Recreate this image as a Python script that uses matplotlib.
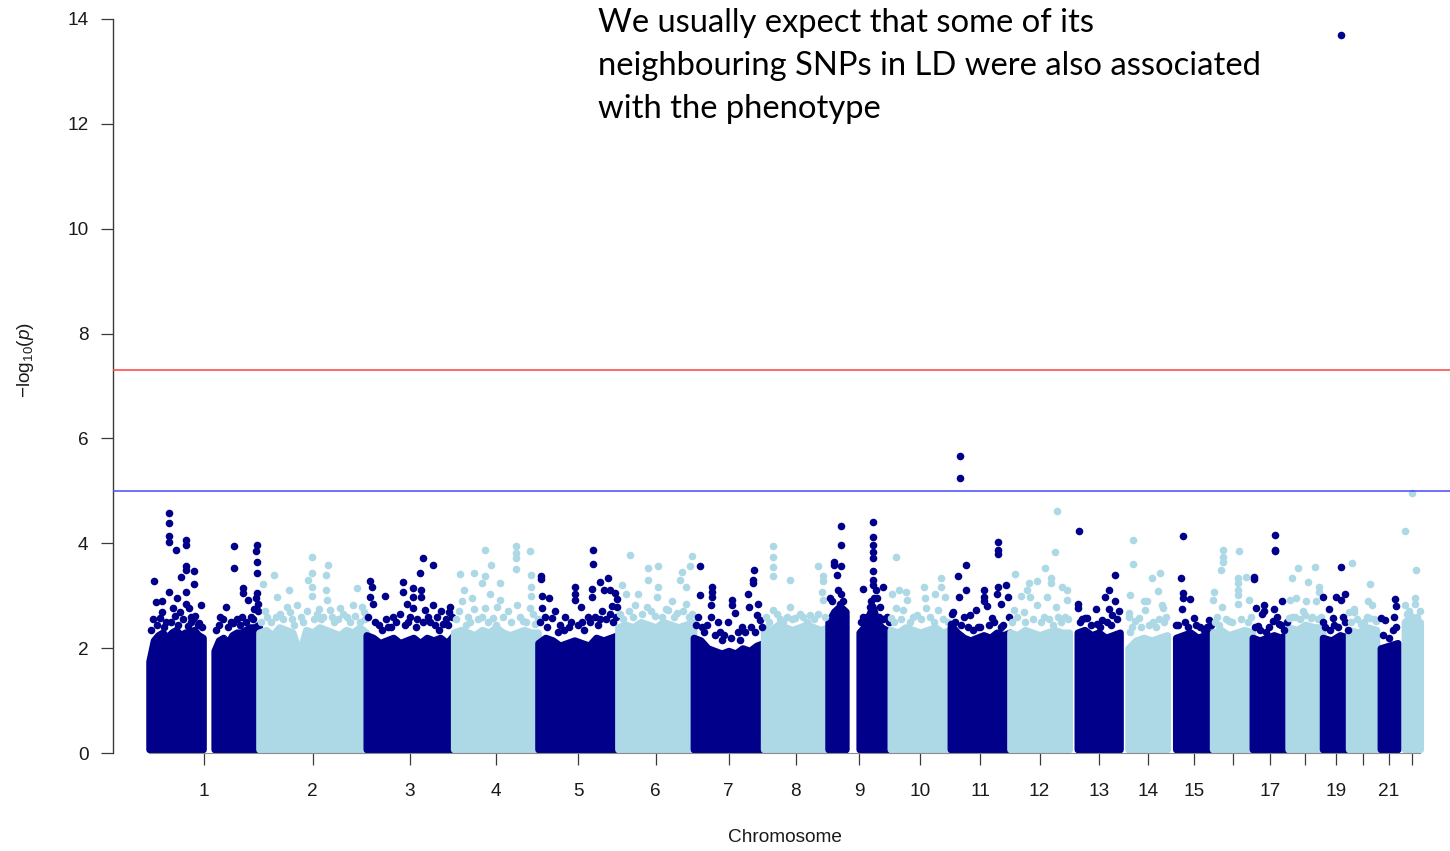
import numpy as np
import matplotlib
matplotlib.use("Agg")
import matplotlib.pyplot as plt

plt.rcParams['font.family'] = 'Liberation Sans'
plt.rcParams['mathtext.fontset'] = 'custom'
plt.rcParams['mathtext.rm'] = 'Liberation Sans'
plt.rcParams['mathtext.it'] = 'Liberation Sans:italic'

# chromosome lengths in Mb (hg19), autosomes 1-22
chrom_len = [249, 243, 198, 191, 181, 171, 159, 146, 141, 136, 135, 134,
             115, 107, 103, 90, 81, 78, 59, 63, 48, 51]
chrom_labels = ['1', '2', '3', '4', '5', '6', '7', '8', '9', '10', '11', '12',
                '13', '14', '15', '', '17', '', '19', '', '21', '']

# dense body of the SNP cloud: (from Mb, to Mb, upper edge of the cloud)
band_1 = [(0.5, 122, [1.75, 2.15, 2.25, 2.3, 2.2, 2.3, 2.35, 2.25, 2.3, 2.3, 2.35, 2.25, 2.2]),
          (148, 249, [1.95, 2.15, 2.2, 2.1, 2.25, 2.3, 2.3, 2.35, 2.4, 2.4, 2.45])]
band_2 = [(0.5, 243, [2.3, 2.35, 2.25, 2.4, 2.35, 2.3, 1.9, 2.35, 2.3, 2.4, 2.35, 2.3, 2.25,
                      2.35, 2.3, 2.4, 2.3])]
band_3 = [(0.5, 198, [2.25, 2.2, 2.1, 2.15, 2.2, 2.1, 2.15, 2.2, 2.1, 2.2, 2.15, 2.2, 2.1, 2.25])]
band_4 = [(0.5, 191, [2.3, 2.35, 2.3, 2.25, 2.35, 2.3, 2.4, 2.3, 2.25, 2.3, 2.35, 2.3, 2.3])]
band_5 = [(0.5, 181, [2.1, 2.2, 2.15, 2.05, 2.1, 2.15, 2.1, 2.05, 2.2, 2.15, 2.2, 2.25])]
band_6 = [(0.5, 171, [2.4, 2.45, 2.4, 2.5, 2.45, 2.4, 2.5, 2.45, 2.4, 2.45, 2.5])]
band_7 = [(0.5, 159, [2.2, 2.15, 2.0, 1.95, 1.9, 1.95, 1.9, 2.0, 1.95, 2.05, 2.1])]
band_8 = [(0.5, 146, [2.4, 2.35, 2.45, 2.4, 2.35, 2.4, 2.45, 2.4, 2.35, 2.4])]
band_9 = [(0.5, 40, [2.5, 2.7, 2.8, 2.7]),
          (71, 141, [2.3, 2.4, 2.6, 2.8, 2.5, 2.4, 2.35, 2.3])]
band_10 = [(0.5, 135.5, [2.35, 2.3, 2.4, 2.35, 2.3, 2.35, 2.4, 2.3, 2.35])]
band_11 = [(0.5, 135, [2.45, 2.3, 2.2, 2.15, 2.2, 2.25, 2.2, 2.3, 2.25, 2.3])]
band_12 = [(0.5, 134, [2.3, 2.25, 2.35, 2.3, 2.25, 2.3, 2.35, 2.3, 2.3])]
band_13 = [(19, 115, [2.3, 2.35, 2.25, 2.3, 2.2, 2.25, 2.3])]
band_14 = [(19, 107, [2.0, 2.15, 2.2, 2.15, 2.2, 2.25])]
band_15 = [(20, 102, [2.2, 2.25, 2.3, 2.2, 2.25, 2.3])]
band_16 = [(0.5, 90, [2.3, 2.35, 2.25, 2.3, 2.35, 2.3])]
band_17 = [(0.5, 81, [2.2, 2.15, 2.2, 2.25, 2.2, 2.3])]
band_18 = [(0.5, 78, [2.4, 2.35, 2.45, 2.4, 2.4])]
band_19 = [(0.5, 59, [2.2, 2.15, 2.25, 2.2])]
band_20 = [(0.5, 63, [2.35, 2.3, 2.4, 2.35])]
band_21 = [(9.5, 48, [2.0, 2.05, 2.1])]
band_22 = [(16, 51, [2.5, 2.55, 2.5])]

# SNPs standing out above the cloud: (position Mb, -log10 p)
hits_1 = [(45, 4.58), (45, 4.38), (45, 4.13), (45, 4.02), (61, 3.87), (83, 4.06), (83, 3.97),
          (83, 3.57), (83, 3.50), (102, 3.48), (72, 3.36), (102, 3.22), (12, 3.29), (45, 3.07),
          (83, 3.07), (15, 2.88), (29, 2.90), (63, 2.96), (29, 2.69), (117, 2.83), (83, 2.85),
          (91, 2.76), (55, 2.76), (70, 2.69), (95, 2.60), (8, 2.55), (38, 2.50), (100, 2.55),
          (110, 2.45), (5, 2.35), (18, 2.45), (24, 2.58), (33, 2.40), (50, 2.50), (58, 2.62),
          (66, 2.45), (77, 2.55), (88, 2.42), (96, 2.50), (105, 2.62), (114, 2.48), (120, 2.40),
          (193, 3.94), (193, 3.52), (245, 3.97), (242, 3.86), (245, 3.65),
          (245, 3.44), (214, 3.05), (214, 3.14), (174, 2.79), (225, 2.92), (245, 3.06),
          (242, 2.95), (160, 2.60), (185, 2.50), (200, 2.55), (230, 2.60), (238, 2.75),
          (152, 2.35), (158, 2.45), (168, 2.55), (180, 2.40), (190, 2.48), (205, 2.45),
          (210, 2.60), (220, 2.50), (235, 2.55), (248, 2.70), (248, 2.85)]
hits_2 = [(120, 3.74), (157, 3.58), (152, 3.40), (120, 3.44), (112, 3.30), (120, 3.17),
          (33, 3.40), (10, 3.22), (152, 3.11), (222, 3.14), (67, 3.11), (42, 2.98), (120, 3.00),
          (154, 2.92), (214, 2.82), (184, 2.76), (86, 2.82), (63, 2.79), (48, 2.66), (18, 2.60),
          (131, 2.66), (161, 2.73), (233, 2.79), (28, 2.50), (75, 2.55), (100, 2.50),
          (140, 2.55), (170, 2.50), (200, 2.60), (240, 2.55), (5, 2.50), (14, 2.70),
          (38, 2.60), (55, 2.55), (70, 2.68), (80, 2.45), (95, 2.60), (108, 2.70), (125, 2.55),
          (135, 2.75), (145, 2.60), (165, 2.60), (178, 2.55), (190, 2.65), (207, 2.50),
          (218, 2.62), (228, 2.50), (238, 2.68)]
hits_3 = [(9, 3.29), (14, 3.17), (43, 3.00), (84, 3.27), (84, 3.08), (129, 3.71), (152, 3.59),
          (122, 3.43), (107, 3.14), (124, 3.11), (124, 2.98), (107, 2.98), (92, 2.85),
          (152, 2.82), (107, 2.76), (190, 2.79), (188, 2.69), (61, 2.60), (77, 2.66),
          (133, 2.73), (175, 2.47), (9, 2.98), (16, 2.85), (30, 2.45), (50, 2.40), (95, 2.50),
          (115, 2.55), (145, 2.50), (160, 2.60), (170, 2.70), (180, 2.55), (4, 2.60),
          (20, 2.50), (35, 2.35), (45, 2.55), (57, 2.40), (68, 2.50), (88, 2.45), (100, 2.60),
          (112, 2.40), (128, 2.50), (140, 2.60), (155, 2.45), (165, 2.35), (185, 2.45),
          (195, 2.60)]
hits_4 = [(71, 3.88), (141, 3.94), (141, 3.81), (141, 3.71), (173, 3.85), (141, 3.51),
          (84, 3.59), (15, 3.41), (46, 3.44), (71, 3.38), (64, 3.24), (105, 3.25), (175, 3.39),
          (175, 3.17), (175, 3.00), (24, 3.11), (41, 2.95), (82, 3.03), (105, 2.92),
          (143, 2.82), (20, 2.89), (45, 2.74), (71, 2.76), (98, 2.79), (124, 2.70), (173, 2.76),
          (33, 2.60), (64, 2.60), (90, 2.57), (158, 2.51), (184, 2.47), (5, 2.55), (12, 2.70),
          (28, 2.45), (38, 2.50), (55, 2.55), (78, 2.50), (95, 2.45), (112, 2.60), (130, 2.50),
          (150, 2.60), (165, 2.50), (180, 2.65), (190, 2.55)]
hits_5 = [(125, 3.88), (125, 3.60), (8, 3.37), (8, 3.32), (25, 2.95), (10, 2.99), (10, 2.76),
          (39, 2.71), (84, 3.17), (85, 3.04), (85, 2.92), (122, 3.13), (122, 2.98), (140, 3.27),
          (158, 3.33), (150, 3.11), (163, 3.11), (180, 2.93), (180, 2.79), (97, 2.79),
          (61, 2.60), (31, 2.57), (129, 2.60), (163, 2.66), (113, 2.60), (50, 2.45), (70, 2.40),
          (100, 2.50), (140, 2.55), (170, 2.50), (175, 3.05), (5, 2.50), (15, 2.60), (20, 2.40),
          (45, 2.30), (58, 2.35), (75, 2.50), (90, 2.45), (105, 2.35), (118, 2.50), (135, 2.45),
          (145, 2.70), (155, 2.55), (168, 2.80), (176, 2.60)]
hits_6 = [(27, 3.77), (68, 3.52), (92, 3.57), (145, 3.46), (169, 3.76), (163, 3.57),
          (141, 3.30), (68, 3.30), (90, 3.17), (45, 3.04), (88, 2.98), (122, 2.89), (154, 3.17),
          (154, 2.85), (9, 3.20), (18, 3.04), (39, 2.82), (65, 2.79), (114, 2.73), (84, 2.62),
          (135, 2.67), (4, 2.65), (12, 2.55), (25, 2.70), (35, 2.60), (55, 2.65), (75, 2.70),
          (100, 2.60), (108, 2.75), (128, 2.60), (148, 2.70), (160, 2.60), (168, 2.65)]
hits_7 = [(15, 3.57), (43, 3.17), (42, 3.07), (42, 2.97), (15, 3.01), (138, 3.49), (134, 3.30),
          (134, 3.24), (124, 3.03), (88, 2.92), (88, 2.83), (147, 2.85), (126, 2.79), (40, 2.83),
          (11, 2.60), (40, 2.60), (94, 2.67), (56, 2.50), (79, 2.50), (143, 2.63), (151, 2.54),
          (60, 2.30), (70, 2.25), (100, 2.30), (110, 2.40), (30, 2.45), (5, 2.45), (20, 2.40),
          (25, 2.30), (48, 2.25), (65, 2.15), (85, 2.20), (105, 2.15), (118, 2.30), (130, 2.40),
          (140, 2.30), (155, 2.40)]
hits_8 = [(21, 3.94), (21, 3.74), (21, 3.55), (21, 3.37), (124, 3.57), (134, 3.38),
          (134, 3.29), (132, 3.07), (134, 2.92), (60, 3.30), (60, 2.79), (22, 2.73), (82, 2.66),
          (105, 2.63), (124, 2.66), (45, 2.50), (71, 2.57), (5, 2.60), (12, 2.50), (30, 2.65),
          (38, 2.55), (52, 2.60), (65, 2.55), (90, 2.60), (98, 2.50), (115, 2.55), (140, 2.60)]
hits_9 = [(29, 4.33), (29, 3.97), (14, 3.65), (14, 3.58), (29, 3.56), (20, 3.40), (29, 3.03),
          (5, 2.95), (27, 2.85), (38, 2.60), (38, 2.41), (10, 2.90), (22, 3.10), (35, 2.90),
          (101, 4.41), (101, 4.12), (101, 3.97),
          (103, 3.84), (101, 3.71), (101, 3.48), (79, 3.12), (101, 3.30), (101, 3.21),
          (124, 3.16), (109, 3.11), (110, 2.95), (94, 2.79), (118, 2.79), (133, 2.60),
          (80, 2.60), (75, 2.50), (88, 2.60), (97, 2.90), (105, 2.95), (115, 2.60), (125, 2.55),
          (138, 2.50)]
hits_10 = [(14, 3.74), (77, 3.17), (116, 3.33), (116, 3.17), (124, 2.98), (20, 3.11),
           (36, 3.08), (79, 2.95), (101, 3.04), (3, 3.04), (37, 2.92), (82, 2.76), (14, 2.76),
           (29, 2.73), (60, 2.63), (109, 2.73), (1, 2.57), (8, 2.50), (25, 2.55), (45, 2.50),
           (52, 2.60), (70, 2.55), (90, 2.60), (98, 2.50), (120, 2.55), (130, 2.50)]
hits_11 = [(21, 5.66), (21, 5.24), (36, 3.59), (17, 3.38), (36, 3.10), (19, 2.98), (6, 2.69),
           (59, 2.73), (76, 3.11), (76, 2.98), (76, 2.89), (83, 2.80), (108, 4.03), (108, 3.87),
           (108, 3.79), (108, 3.17), (125, 3.20), (106, 3.04), (130, 2.97), (114, 2.85),
           (30, 2.60), (45, 2.63), (1, 2.47), (95, 2.57), (62, 2.41), (114, 2.41), (3, 2.65),
           (10, 2.50), (25, 2.45), (40, 2.40), (52, 2.35), (68, 2.40), (88, 2.45), (100, 2.50),
           (120, 2.45), (132, 2.60)]
hits_12 = [(107, 4.62), (101, 3.83), (12, 3.42), (80, 3.53), (43, 3.24), (62, 3.28), (39, 3.11),
           (93, 3.34), (93, 3.24), (118, 3.17), (130, 3.11), (130, 2.92), (25, 3.00), (45, 2.98),
           (62, 2.82), (84, 2.98), (105, 2.79), (31, 2.69), (77, 2.60), (110, 2.60), (9, 2.73),
           (4, 2.50), (15, 2.60), (35, 2.50), (52, 2.55), (70, 2.50), (88, 2.55), (98, 2.45),
           (115, 2.50), (125, 2.60), (132, 2.55)]
hits_13 = [(22, 4.24), (20, 2.85), (20, 2.76), (37, 2.57), (103, 3.40), (90, 3.11), (81, 2.97),
           (103, 2.89), (60, 2.74), (90, 2.75), (98, 2.63), (41, 2.57), (75, 2.54), (64, 2.47),
           (25, 2.50), (30, 2.55), (50, 2.45), (70, 2.40), (85, 2.50), (95, 2.45), (108, 2.55),
           (113, 2.70)]
hits_14 = [(30, 4.07), (30, 3.60), (73, 3.33), (90, 3.44), (24, 3.01), (87, 3.09), (54, 2.89),
           (62, 2.89), (20, 2.67), (20, 2.60), (58, 2.73), (96, 2.82), (97, 2.76), (43, 2.57),
           (81, 2.41), (35, 2.51), (22, 2.30), (28, 2.40), (48, 2.40), (65, 2.45), (75, 2.50),
           (88, 2.55), (100, 2.50), (105, 2.60)]
hits_15 = [(36, 4.14), (32, 3.33), (36, 3.06), (36, 2.95), (53, 2.94), (34, 2.75), (60, 2.57),
           (95, 2.54), (83, 2.35), (21, 2.44), (24, 2.45), (40, 2.50), (48, 2.40), (65, 2.45),
           (75, 2.40), (90, 2.40), (100, 2.45)]
hits_16 = [(24, 3.88), (24, 3.74), (24, 3.65), (19, 3.49), (60, 3.85), (57, 3.33), (57, 3.24),
           (57, 3.11), (57, 3.01), (75, 3.35), (83, 2.92), (4, 3.08), (1, 2.92), (21, 2.79),
           (57, 2.85), (11, 2.60), (38, 2.51), (5, 2.50), (15, 2.45), (30, 2.55), (45, 2.50),
           (65, 2.55), (80, 2.50), (88, 2.60)]
hits_17 = [(51, 4.15), (51, 3.88), (51, 3.85), (3, 3.35), (3, 3.31), (67, 2.89), (8, 2.76),
           (27, 2.82), (27, 2.70), (50, 2.74), (13, 2.43), (31, 2.30), (23, 2.66), (57, 2.60),
           (60, 2.47), (46, 2.51), (5, 2.40), (18, 2.35), (38, 2.40), (65, 2.45), (72, 2.35),
           (78, 2.50)]
hits_18 = [(22, 3.53), (61, 3.55), (8, 3.33), (46, 3.26), (70, 3.17), (4, 2.92), (19, 2.95),
           (40, 2.89), (70, 3.07), (63, 2.89), (3, 2.57), (15, 2.60), (38, 2.63), (52, 2.57),
           (8, 2.60), (26, 2.55), (33, 2.70), (55, 2.60), (67, 2.55), (75, 2.60)]
hits_19 = [(42, 13.69), (42, 3.54), (1, 2.98), (14, 2.74), (30, 2.97), (42, 2.92), (51, 3.04),
           (1, 2.49), (23, 2.57), (46, 2.60), (27, 2.44), (6, 2.40), (18, 2.35), (35, 2.40),
           (52, 2.50), (57, 2.35)]
hits_20 = [(7, 3.63), (49, 3.22), (45, 2.90), (54, 2.82), (13, 2.75), (13, 2.69), (1, 2.69),
           (28, 2.47), (47, 2.57), (62, 2.51), (5, 2.50), (20, 2.55), (35, 2.50), (42, 2.60),
           (58, 2.55)]
hits_21 = [(42, 2.94), (44, 2.80), (10, 2.57), (20, 2.53), (40, 2.60), (37, 2.35), (14, 2.25),
           (28, 2.20), (45, 2.40)]
hits_22 = [(32, 4.96), (17, 4.24), (41, 3.50), (17, 2.82), (39, 2.95), (39, 2.85), (30, 2.61),
           (19, 2.51), (22, 2.65), (26, 2.70), (45, 2.60), (50, 2.70)]

genome_wide = -np.log10(5e-8)
suggestive = -np.log10(1e-5)

bands = [band_1, band_2, band_3, band_4, band_5, band_6, band_7, band_8, band_9, band_10,
         band_11, band_12, band_13, band_14, band_15, band_16, band_17, band_18, band_19,
         band_20, band_21, band_22]
hits = [hits_1, hits_2, hits_3, hits_4, hits_5, hits_6, hits_7, hits_8, hits_9, hits_10,
        hits_11, hits_12, hits_13, hits_14, hits_15, hits_16, hits_17, hits_18, hits_19,
        hits_20, hits_21, hits_22]

dark = '#00008B'
light = '#ADD8E6'
axis_col = '#3a3a3a'

offsets = np.concatenate([[0], np.cumsum(chrom_len)[:-1]])

fig = plt.figure(figsize=(14.5, 8.51), dpi=100)
ax = fig.add_axes([0, 0, 1, 1])

ticks = []
for i in range(22):
    col = dark if i % 2 == 0 else light
    for start, end, top in bands[i]:
        x = offsets[i] + np.linspace(start, end, len(top))
        poly = ax.fill_between(x, 0.07, top, facecolor=col, edgecolor=col,
                               linewidth=5, zorder=2)
        poly.set_joinstyle('round')
    pts = np.array(hits[i])
    ax.scatter(offsets[i] + pts[:, 0], pts[:, 1], s=30, c=col, linewidths=0, zorder=3)
    first = bands[i][0][0]
    last = bands[i][-1][1]
    ticks.append(offsets[i] + (first + last) / 2)

genome_end = offsets[-1] + bands[-1][-1][1]
yaxis_x = -81.5

ax.set_xlim(-337.5, 2946.8)
ax.set_ylim(-1.869, 14.362)
ax.patch.set_visible(False)

ax.hlines([genome_wide], yaxis_x, 2946.8, colors='#ff4040', linewidth=1.1, zorder=4)
ax.hlines([suggestive], yaxis_x, 2946.8, colors='#4848ff', linewidth=1.1, zorder=4)

for side in ['top', 'right']:
    ax.spines[side].set_visible(False)
ax.spines['left'].set_position(('data', yaxis_x))
ax.spines['left'].set_bounds(0, 14)
ax.spines['left'].set_color(axis_col)
ax.spines['left'].set_linewidth(1.0)
ax.spines['bottom'].set_position(('data', 0))
ax.spines['bottom'].set_bounds(bands[0][0][0], genome_end)
ax.spines['bottom'].set_color('#8c8c8c')
ax.spines['bottom'].set_linewidth(0.8)
ax.spines['bottom'].set_zorder(5)

ax.set_yticks(range(0, 15, 2))
ax.set_xticks(ticks)
ax.set_xticklabels(chrom_labels)
ax.tick_params(axis='both', direction='out', length=8.6, width=0.9, color=axis_col,
               labelsize=13.7, labelcolor='#1a1a1a')
ax.tick_params(axis='y', pad=9)
ax.tick_params(axis='x', pad=13)

fig.text(785 / 1450, 1 - 838 / 851, 'Chromosome', ha='center', va='center',
         fontsize=13.7, color='#1a1a1a')
fig.text(26 / 1450, 1 - 360 / 851, r'$-\mathrm{log}_{10}(p)$', ha='center', va='center',
         rotation=90, fontsize=13.7, color='#1a1a1a')

note = ['We usually expect that some of its',
        'neighbouring SNPs in LD were also associated',
        'with the phenotype']
baselines = [32, 75, 118]
for line, base in zip(note, baselines):
    fig.text(598 / 1450, 1 - base / 851, line, ha='left', va='baseline',
             fontfamily='Lato', fontsize=23.6, color='black')

fig.savefig('out.png', dpi=100)
